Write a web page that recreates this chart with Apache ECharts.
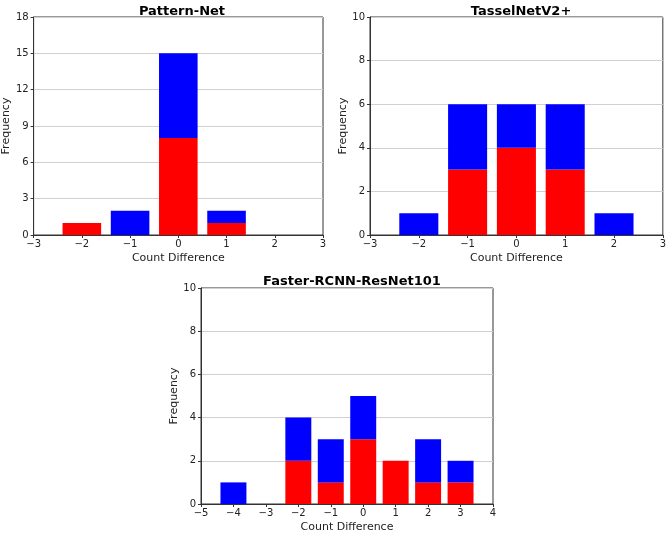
<!DOCTYPE html>
<html><head><meta charset="utf-8">
<script src="https://cdn.jsdelivr.net/npm/echarts@6/dist/echarts.min.js"></script>
<style>html,body{margin:0;padding:0;background:#fff}#c{width:669px;height:534px}</style>
</head><body><div id="c"></div>
<script>
const titles = ['Pattern-Net', 'TasselNetV2+', 'Faster-RCNN-ResNet101'];
const cats1 = ['\u22123','\u22122','\u22121','0','1','2','3'];
const red1  = [0, 1, 0, 8, 1, 0, 0];
const blue1 = [0, 0, 2, 7, 1, 0, 0];
const cats2 = ['\u22123','\u22122','\u22121','0','1','2','3'];
const red2  = [0, 0, 3, 4, 3, 0, 0];
const blue2 = [0, 1, 3, 2, 3, 1, 0];
const cats3 = ['\u22125','\u22124','\u22123','\u22122','\u22121','0','1','2','3','4'];
const red3  = [0, 0, 0, 2, 1, 3, 2, 1, 1, 0];
const blue3 = [0, 1, 0, 2, 2, 2, 0, 2, 1, 0];
const yMax = [18, 10, 10];
const yStep = [3, 2, 2];

const FONT = 'DejaVu Sans';
const grids = [
  {left: 31, right: 346, top: 17, bottom: 299},
  {left: 370, right: 6, top: 17, bottom: 299},
  {left: 201, right: 176, top: 288, bottom: 27}
].map(g => Object.assign(g, {show: true, borderColor: '#333', borderWidth: 1, backgroundColor: '#fff'}));

const catsAll = [cats1, cats2, cats3];
const redAll = [red1, red2, red3];
const blueAll = [blue1, blue2, blue3];

const xAxis = catsAll.map((c, i) => ({
  type: 'category', gridIndex: i, data: c, boundaryGap: false,
  axisLine: {lineStyle: {color: '#333'}},
  axisTick: {lineStyle: {color: '#333'}, length: 3},
  axisLabel: {color: '#222', fontFamily: FONT, fontSize: 10, margin: 4},
  name: 'Count Difference', nameLocation: 'middle', nameGap: 18,
  nameTextStyle: {color: '#222', fontFamily: FONT, fontSize: 11}
}));
const yAxis = [0, 1, 2].map(i => ({
  type: 'value', gridIndex: i, min: 0, max: yMax[i], interval: yStep[i],
  axisLine: {show: true, lineStyle: {color: '#333'}},
  axisTick: {show: true, lineStyle: {color: '#333'}, length: 3},
  axisLabel: {color: '#222', fontFamily: FONT, fontSize: 10, margin: 5},
  splitLine: {show: true, lineStyle: {color: '#d0d0d0', width: 1}},
  name: 'Frequency', nameLocation: 'middle', nameRotate: 90, nameGap: 15,
  nameTextStyle: {color: '#222', fontFamily: FONT, fontSize: 11}
}));
const series = [];
for (let i = 0; i < 3; i++) {
  series.push({type: 'bar', xAxisIndex: i, yAxisIndex: i, stack: 's' + i, data: redAll[i],
    barWidth: '80%', itemStyle: {color: '#ff0000'}, silent: true, animation: false});
  series.push({type: 'bar', xAxisIndex: i, yAxisIndex: i, stack: 's' + i, data: blueAll[i],
    barWidth: '80%', itemStyle: {color: '#0000ff'}, silent: true, animation: false});
}
const title = [
  {text: titles[0], left: 177, top: 0, textAlign: 'center'},
  {text: titles[1], left: 516, top: 0, textAlign: 'center'},
  {text: titles[2], left: 347, top: 270, textAlign: 'center'}
].map(t => Object.assign(t, {textStyle: {fontFamily: FONT, fontSize: 13, fontWeight: 'bold', color: '#000'}}));

const chart = echarts.init(document.getElementById('c'), null, {renderer: 'canvas'});
chart.setOption({animation: false, backgroundColor: '#fff', title, grid: grids, xAxis, yAxis, series});
</script></body></html>
